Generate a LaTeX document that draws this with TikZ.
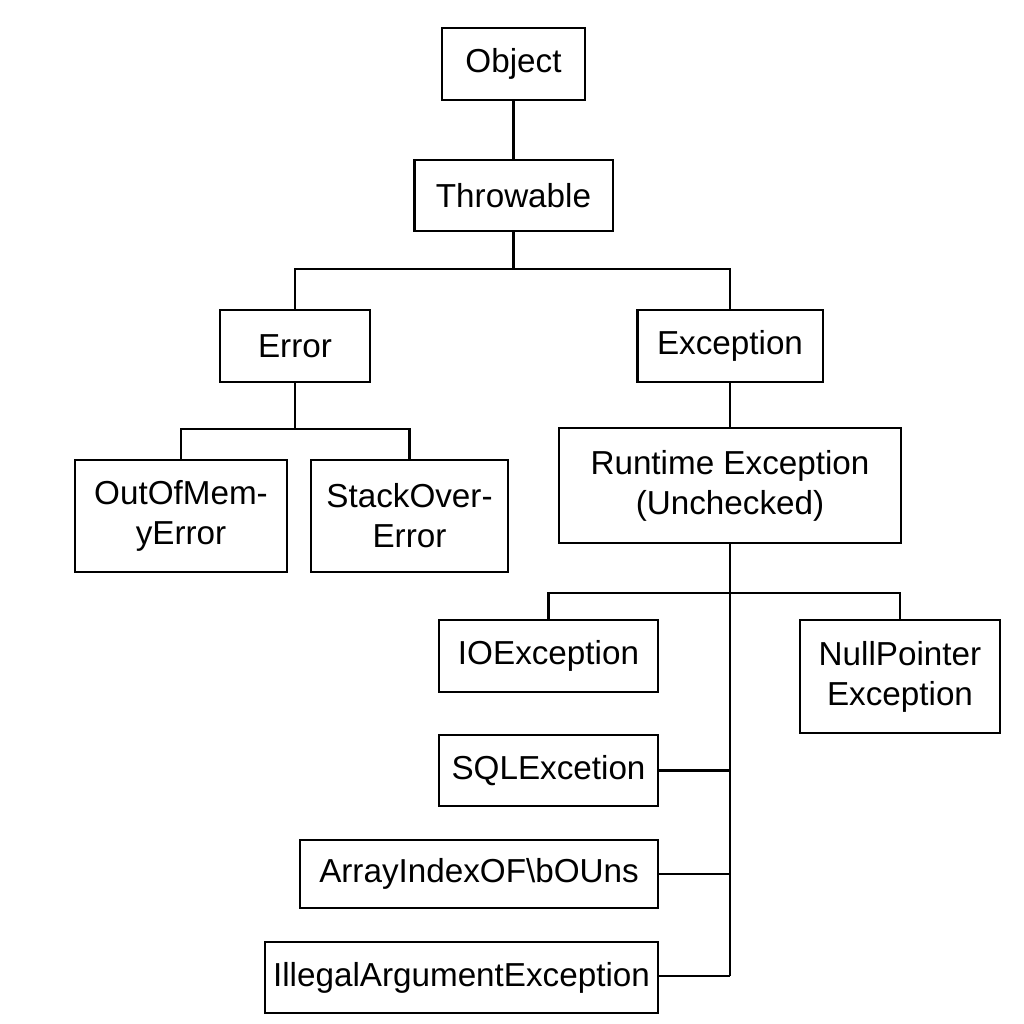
\documentclass[tikz,border=0pt]{standalone}
\usepackage{fontspec}
\setmainfont{Liberation Sans}
\begin{document}
\begin{tikzpicture}[x=0.01cm, y=-0.01cm, line width=0.6pt,
    font=\fontsize{9.45}{11.4}\selectfont,
    classbox/.style={shape=rectangle, draw, inner sep=0pt, align=center}]
    \useasboundingbox (0, 0) rectangle (1024, 1024);

    % top of the tree
    \node (obj) [classbox, minimum width=1.43cm, minimum height=0.72cm] at (513.5, 64) {Object};
    \node (thr) [classbox, minimum width=1.98cm, minimum height=0.71cm] at (513.5, 195.5) {Throwable};
    \node (err) [classbox, minimum width=1.50cm, minimum height=0.72cm] at (295, 346) {Error};
    \node (exc) [classbox, minimum width=1.85cm, minimum height=0.72cm] at (730, 346) {Exception};

    % errors
    \node (oom) [classbox, minimum width=2.12cm, minimum height=1.12cm] at (181, 516) {OutOfMem-\\yError};
    \node (soe) [classbox, minimum width=1.97cm, minimum height=1.12cm] at (409.5, 516) {StackOver-\\Error};

    % exceptions
    \node (rte) [classbox, minimum width=3.42cm, minimum height=1.15cm] at (730, 485.5) {Runtime Exception\\(Unchecked)};
    \node (ioe) [classbox, minimum width=2.19cm, minimum height=0.72cm] at (548.5, 656) {IOException};
    \node (npe) [classbox, minimum width=2.00cm, minimum height=1.13cm] at (900, 676.5) {NullPointer\\Exception};
    \node (sql) [classbox, minimum width=2.19cm, minimum height=0.71cm] at (548.5, 770.5) {SQLExcetion};
    \node (aio) [classbox, minimum width=3.58cm, minimum height=0.68cm] at (479, 874) {ArrayIndexOF\textbackslash bOUns};
    \node (iae) [classbox, minimum width=3.93cm, minimum height=0.71cm] at (461.5, 977.5) {IllegalArgumentException};

    \coordinate (tj) at (513.5, 269);
    \coordinate (ej) at (295, 429);
    \coordinate (rj) at (730, 593);
    \coordinate (rend) at (730, 976);

    \draw (obj) -- (thr);
    \draw (thr) -- (tj) -| (err);
    \draw (tj) -| (exc);
    \draw (err) -- (ej) -| (oom);
    \draw (ej) -| (soe);
    \draw (exc) -- (rte);
    \draw (rte) -- (rend);
    \draw (rj) -| (ioe);
    \draw (rj) -| (npe);
    \draw (sql) -- (sql -| rend);
    \draw (aio) -- (aio -| rend);
    \draw (iae.east |- rend) -- (rend);

\end{tikzpicture}
\end{document}
